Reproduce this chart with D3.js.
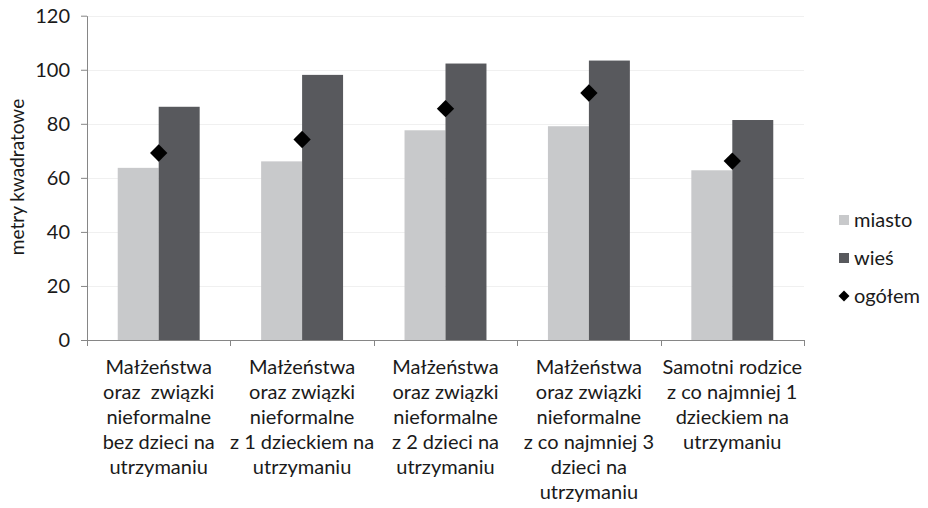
<!DOCTYPE html>
<html>
<head>
<meta charset="utf-8">
<script src="https://cdn.jsdelivr.net/npm/d3@7"></script>
<style>
  html, body { margin: 0; padding: 0; background: #fff; }
  svg { display: block; font-family: Lato, "Open Sans", sans-serif; }
</style>
</head>
<body>
<svg id="chart" width="928" height="508"></svg>
<script>
// ---- data ----
const categories = [
  ["Małżeństwa", "oraz  związki", "nieformalne", "bez dzieci na", "utrzymaniu"],
  ["Małżeństwa", "oraz związki", "nieformalne", "z 1 dzieckiem na", "utrzymaniu"],
  ["Małżeństwa", "oraz związki", "nieformalne", "z 2 dzieci na", "utrzymaniu"],
  ["Małżeństwa", "oraz związki", "nieformalne", "z co najmniej 3", "dzieci na", "utrzymaniu"],
  ["Samotni rodzice", "z co najmniej 1", "dzieckiem na", "utrzymaniu"]
];
const seriesNames = ["miasto", "wieś", "ogółem"];
const miasto = [63.7, 66.1, 77.6, 79.1, 62.8];
const wies   = [86.3, 98.1, 102.3, 103.4, 81.4];
const ogolem = [69.2, 74.2, 85.6, 91.4, 66.2];
const yTicks = [0, 20, 40, 60, 80, 100, 120];
const yTitle = "metry kwadratowe";

// ---- layout ----
const colors = { "miasto": "#c8c9cb", "wieś": "#58595d", "ogółem": "#000000" };
const svg = d3.select("#chart");
const mLeft = 87, mRight = 804, mTop = 15.7, mBottom = 340;
const idx = d3.range(categories.length);

const x0 = d3.scaleBand().domain(idx).range([mLeft, mRight]).paddingInner(0).paddingOuter(0);
const x1 = d3.scaleBand().domain(["miasto", "wieś"]).range([0, x0.bandwidth()])
  .paddingInner(0).paddingOuter(0.75);
const y = d3.scaleLinear().domain([0, 120]).range([mBottom, mTop]);

// gridlines
svg.append("g").selectAll("line").data(yTicks.filter(t => t > 0)).join("line")
  .attr("x1", mLeft).attr("x2", mRight)
  .attr("y1", d => Math.round(y(d)) + 0.5).attr("y2", d => Math.round(y(d)) + 0.5)
  .attr("stroke", "#f0f0f0").attr("stroke-width", 1);

// bars
const rows = idx.map(i => ({ i, vals: [["miasto", miasto[i]], ["wieś", wies[i]]] }));
const g = svg.append("g");
g.selectAll("g").data(rows).join("g")
  .attr("transform", d => `translate(${x0(d.i)},0)`)
  .selectAll("rect").data(d => d.vals).join("rect")
  .attr("x", d => x1(d[0]))
  .attr("width", x1.bandwidth())
  .attr("y", d => y(d[1]))
  .attr("height", d => y(0) - y(d[1]))
  .attr("fill", d => colors[d[0]]);

// axes
const axisColor = "#868686";
const yAxis = svg.append("g").attr("transform", `translate(${mLeft},0)`)
  .call(d3.axisLeft(y).tickValues(yTicks).tickSize(6).tickPadding(11).tickSizeOuter(0));
yAxis.select(".domain").attr("stroke", axisColor);
yAxis.selectAll(".tick line").attr("stroke", axisColor);
yAxis.selectAll("text").attr("font-size", 20).attr("fill", "#1a1a1a")
  .attr("font-family", "Lato, sans-serif");

// x axis line + boundary ticks
const xAxis = svg.append("g");
xAxis.append("line").attr("x1", mLeft).attr("x2", mRight)
  .attr("y1", mBottom + 0.5).attr("y2", mBottom + 0.5).attr("stroke", axisColor);
const bounds = idx.map(i => x0(i)).concat([mRight]);
xAxis.selectAll("line.tk").data(bounds).join("line").attr("class", "tk")
  .attr("x1", d => Math.round(d) + 0.5).attr("x2", d => Math.round(d) + 0.5)
  .attr("y1", mBottom).attr("y2", mBottom + 6).attr("stroke", axisColor);

// category labels
const labels = svg.append("g").attr("font-size", 20).attr("fill", "#1a1a1a")
  .attr("text-anchor", "middle");
labels.selectAll("text").data(idx).join("text")
  .attr("x", i => x0(i) + x0.bandwidth() / 2)
  .attr("y", 374)
  .style("white-space", "pre")
  .selectAll("tspan").data(i => categories[i].map((l, k) => ({ l, k, i }))).join("tspan")
  .attr("x", d => x0(d.i) + x0.bandwidth() / 2)
  .attr("y", d => 374 + d.k * 25)
  .text(d => d.l);

// ogółem diamonds
const diamond = d3.symbol().type(d3.symbolSquare).size(150);
svg.append("g").selectAll("path").data(idx).join("path")
  .attr("d", diamond)
  .attr("transform", i => `translate(${x0(i) + x0.bandwidth() / 2},${y(ogolem[i])}) rotate(45)`)
  .attr("fill", colors["ogółem"]);

// y title
svg.append("text")
  .attr("transform", "translate(24,177) rotate(-90)")
  .attr("text-anchor", "middle")
  .attr("font-size", 19).attr("fill", "#1a1a1a")
  .text(yTitle);

// legend
const legY = [220, 258, 296];
const leg = svg.append("g");
seriesNames.forEach((s, k) => {
  if (s === "ogółem") {
    leg.append("path").attr("d", d3.symbol().type(d3.symbolSquare).size(60))
      .attr("transform", `translate(844,${legY[k]}) rotate(45)`).attr("fill", colors[s]);
  } else {
    leg.append("rect").attr("x", 839).attr("y", legY[k] - 5).attr("width", 10).attr("height", 10)
      .attr("fill", colors[s]);
  }
  leg.append("text").attr("x", 854).attr("y", legY[k] + 6.5)
    .attr("font-size", 20).attr("fill", "#1a1a1a").text(s);
});
</script>
</body>
</html>
